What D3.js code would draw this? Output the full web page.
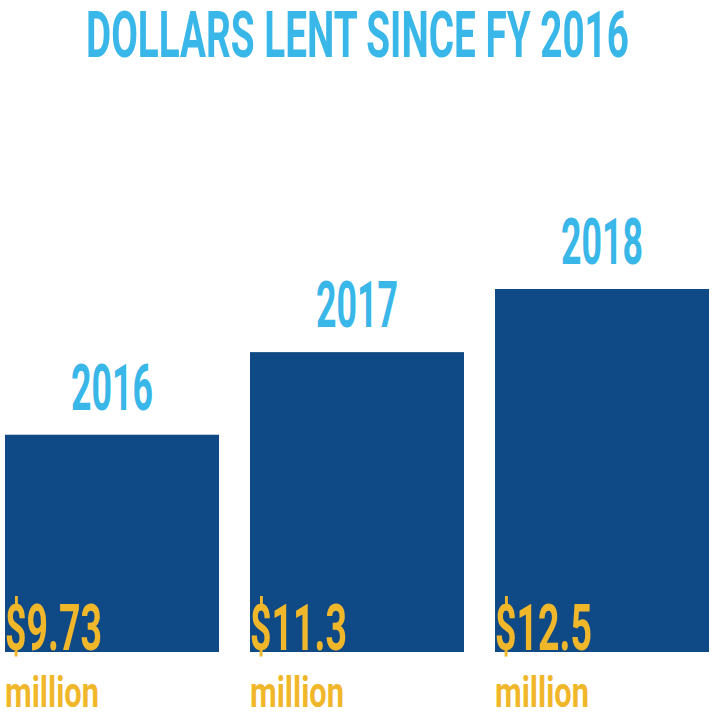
<!DOCTYPE html>
<html>
<head>
<meta charset="utf-8">
<script src="https://cdn.jsdelivr.net/npm/d3@7"></script>
<style>
  html, body { margin: 0; padding: 0; background: #ffffff; }
  svg { display: block; }
  text { font-family: Roboto, "DejaVu Sans Condensed", sans-serif; font-weight: 700; }
</style>
</head>
<body>
<div id="chart"></div>
<script>
// ---- data ----
const title = "DOLLARS LENT SINCE FY 2016";
const years = ["2016", "2017", "2018"];
const amounts = [9.73, 11.3, 12.5];          // millions of dollars
const amountLabels = ["$9.73", "$11.3", "$12.5"];
const unitLabel = "million";

// ---- layout ----
const W = 712, H = 715;
const baseY = 652;
const colors = { bar: "#0f4a86", accent: "#3ab7e9", value: "#f1b72b" };

const svg = d3.select("#chart").append("svg").attr("width", W).attr("height", H);

const x = d3.scaleBand().domain(years).range([5, 709]).paddingInner(31 / 245).paddingOuter(0);
const y = d3.scaleLinear().domain([5.6, 12.5]).range([baseY, 289]);

const rows = years.map((yr, i) => ({ year: yr, value: amounts[i], label: amountLabels[i] }));

// title
svg.append("text")
  .attr("x", 86).attr("y", 57)
  .attr("font-size", 64)
  .attr("textLength", 543).attr("lengthAdjust", "spacingAndGlyphs")
  .attr("fill", colors.accent)
  .text(title);

// bars
svg.selectAll("rect.bar").data(rows).join("rect")
  .attr("class", "bar")
  .attr("x", d => x(d.year))
  .attr("y", d => y(d.value))
  .attr("width", x.bandwidth())
  .attr("height", d => baseY - y(d.value))
  .attr("fill", colors.bar);

// year labels
svg.selectAll("text.year").data(rows).join("text")
  .attr("class", "year")
  .attr("x", d => x(d.year) + x.bandwidth() / 2 - 41)
  .attr("y", d => y(d.value) - 25)
  .attr("font-size", 64)
  .attr("textLength", 82).attr("lengthAdjust", "spacingAndGlyphs")
  .attr("fill", colors.accent)
  .text(d => d.year);

// value labels
svg.selectAll("text.value").data(rows).join("text")
  .attr("class", "value")
  .attr("x", d => x(d.year))
  .attr("y", 650)
  .attr("font-size", 64)
  .attr("textLength", 97).attr("lengthAdjust", "spacingAndGlyphs")
  .attr("fill", colors.value)
  .text(d => d.label);

// unit labels
svg.selectAll("text.unit").data(rows).join("text")
  .attr("class", "unit")
  .attr("x", d => x(d.year))
  .attr("y", 707)
  .attr("font-size", 43)
  .attr("textLength", 94).attr("lengthAdjust", "spacingAndGlyphs")
  .attr("fill", colors.value)
  .text(unitLabel);
</script>
</body>
</html>
